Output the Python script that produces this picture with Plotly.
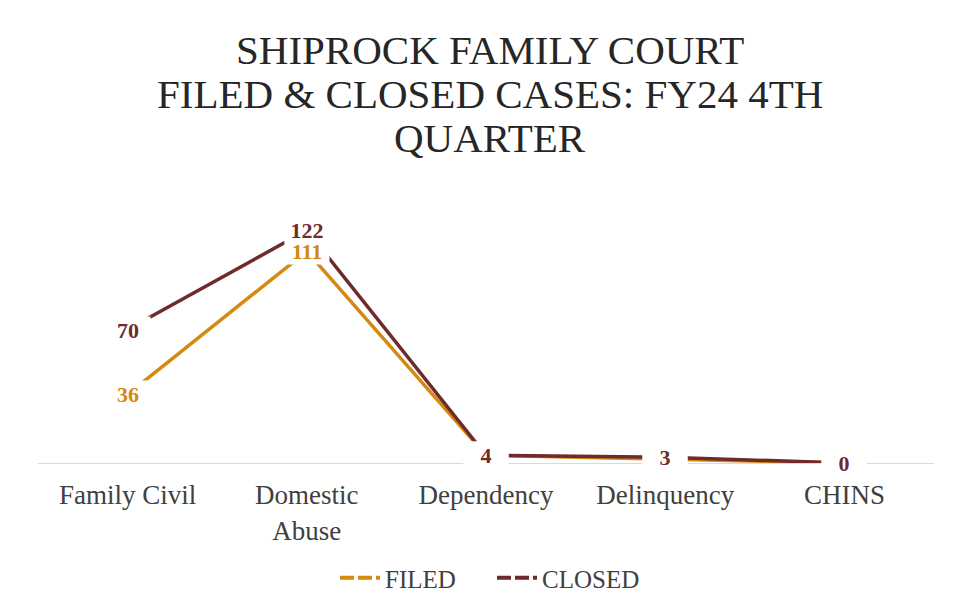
import plotly.graph_objects as go

categories = ["Family Civil", "Domestic<br>Abuse", "Dependency", "Delinquency", "CHINS"]
filed = [36, 111, 4, 2, 0]
closed = [70, 122, 4, 3, 0]
series_names = ["FILED", "CLOSED"]
series_colors = ["#D4890F", "#6E2B2B"]
title_lines = ["SHIPROCK FAMILY COURT", "FILED &amp; CLOSED CASES: FY24 4TH", "QUARTER"]

FONT = "Liberation Serif"
# page body has an 8px margin, so the figure is 16px smaller and shifted
W, H = 946, 597
ML, MR, MT, MB = 30, 20, 188, 142
PW = W - ML - MR
PH = H - MT - MB

fig = go.Figure()

for name, vals, col in zip(series_names, [filed, closed], series_colors):
    fig.add_trace(go.Scatter(x=categories, y=vals, mode="lines", name=name,
                             line=dict(color=col, width=3.5), showlegend=False,
                             hoverinfo="skip"))
# legend entries (dashed swatches)
for name, col in zip(series_names, series_colors):
    fig.add_trace(go.Scatter(x=[None], y=[None], mode="lines", name=name,
                             line=dict(color=col, width=4, dash="14px,4px")))

annotations = []
for vals, col in zip([filed, closed], series_colors):
    for c, v in zip(categories, vals):
        annotations.append(dict(x=c, y=v, xref="x", yref="y", text=str(v), showarrow=False,
                                font=dict(family=FONT, size=22, color=col, weight="bold"),
                                bgcolor="white", width=44, height=26, borderpad=0,
                                xanchor="center", yanchor="middle"))

# title lines as centred annotations
for i, line in enumerate(title_lines):
    ypx = 42 + 44 * i
    annotations.append(dict(x=(482 - ML) / PW, y=(H - MB - ypx) / PH,
                            xref="paper", yref="paper", text=line, showarrow=False,
                            xanchor="center", yanchor="middle",
                            font=dict(family=FONT, size=41, color="#262626")))

fig.update_layout(
    width=W, height=H,
    margin=dict(l=ML, r=MR, t=MT, b=MB, autoexpand=False),
    paper_bgcolor="white", plot_bgcolor="white",
    xaxis=dict(range=[-0.5, 4.5], showgrid=False, showline=True, linecolor="#D9D9D9",
               linewidth=1, ticks="", automargin=False, ticklabelstandoff=8,
               tickfont=dict(family=FONT, size=27, color="#404040")),
    yaxis=dict(range=[0, 140], visible=False, showgrid=False, zeroline=False),
    legend=dict(orientation="h", x=(484 - ML) / PW, xanchor="center", y=(H - 570) / H,
                yanchor="middle", yref="container", entrywidth=102, entrywidthmode="pixels",
                font=dict(family=FONT, size=25, color="#404040"), itemwidth=40),
    annotations=annotations,
    showlegend=True,
)

fig.write_html("out.html")
